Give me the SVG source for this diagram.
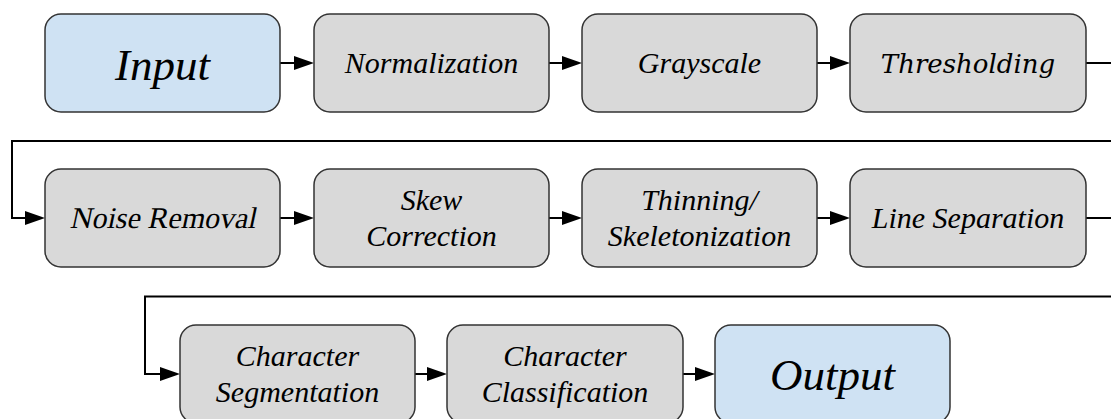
<svg xmlns="http://www.w3.org/2000/svg" width="1111" height="419" viewBox="0 0 1111 419">
<style>
.box{stroke:#333;stroke-width:1.5}
.io{fill:#cfe2f3}
.st{fill:#d9d9d9}
.c{fill:none;stroke:#000;stroke-width:2}
.ah{fill:#000;stroke:none}
</style>
<rect width="1111" height="419" fill="#fff"/>
<g id="connectors">
<path class="c" d="M280,63 H296"/>
<path class="c" d="M549,63 H564"/>
<path class="c" d="M817,63 H832"/>
<path class="c" d="M1086,63 H1116 V141 H12 V218 H27"/>
<path class="c" d="M280,218 H296"/>
<path class="c" d="M549,218 H564"/>
<path class="c" d="M817,218 H832"/>
<path class="c" d="M1086,218 H1116 V296.5 H145 V374 H162"/>
<path class="c" d="M415,374 H429"/>
<path class="c" d="M683,374 H697"/>
<polygon class="ah" points="294,56 314,63 294,70"/>
<polygon class="ah" points="562,56 582,63 562,70"/>
<polygon class="ah" points="830,56 850,63 830,70"/>
<polygon class="ah" points="25,211 45,218 25,225"/>
<polygon class="ah" points="294,211 314,218 294,225"/>
<polygon class="ah" points="562,211 582,218 562,225"/>
<polygon class="ah" points="830,211 850,218 830,225"/>
<polygon class="ah" points="160,367 180,374 160,381"/>
<polygon class="ah" points="427,367 447,374 427,381"/>
<polygon class="ah" points="695,367 715,374 695,381"/>
</g>
<g id="input"><rect class="box io" x="45" y="14" width="235" height="98" rx="16"/><text font-family="'Liberation Serif'" font-style="italic" font-size="45" text-anchor="middle" x="162.5" y="80">Input</text></g>
<g id="normalization"><rect class="box st" x="314" y="14" width="235" height="98" rx="16"/><text font-family="Tinos" font-style="italic" font-size="30" text-anchor="middle" x="431.5" y="73">Normalization</text></g>
<g id="grayscale"><rect class="box st" x="582" y="14" width="235" height="98" rx="16"/><text font-family="'Times New Roman'" font-style="italic" font-size="30" text-anchor="middle" x="699.5" y="73">Grayscale</text></g>
<g id="thresholding"><rect class="box st" x="850" y="14" width="236" height="98" rx="16"/><text font-family="'DejaVu Serif'" font-style="italic" font-size="26" text-anchor="middle" x="968" y="73">Thresholding</text></g>
<g id="noise-removal"><rect class="box st" x="45" y="169" width="235" height="98" rx="16"/><text font-family="'Liberation Serif'" font-size="30" text-anchor="middle" transform="translate(162.5 228) skewX(-12)">Noise Removal</text></g>
<g id="skew-correction"><rect class="box st" x="314" y="169" width="235" height="98" rx="16"/><text font-family="serif" font-style="italic" font-size="30" text-anchor="middle" x="431.5" y="210">Skew</text><text font-family="serif" font-style="italic" font-size="30" text-anchor="middle" x="431.5" y="246">Correction</text></g>
<g id="thinning"><rect class="box st" x="582" y="169" width="235" height="98" rx="16"/><text font-family="'Liberation Serif'" font-style="oblique" font-size="30" text-anchor="middle" x="699.5" y="210">Thinning/</text><text font-family="'Liberation Serif'" font-style="oblique" font-size="30" text-anchor="middle" x="699.5" y="246">Skeletonization</text></g>
<g id="line-separation"><rect class="box st" x="850" y="169" width="236" height="98" rx="16"/><text font-family="'Liberation Serif'" font-style="italic" font-size="30" text-anchor="middle" x="968" y="228">Line Separation</text></g>
<g id="char-segmentation"><rect class="box st" x="180" y="325" width="235" height="98" rx="16"/><text font-family="'Liberation Serif'" font-style="italic" font-size="30" text-anchor="middle" x="297.5" y="366">Character</text><text font-family="'Liberation Serif'" font-style="italic" font-size="30" text-anchor="middle" x="297.5" y="402">Segmentation</text></g>
<g id="char-classification"><rect class="box st" x="447" y="325" width="236" height="98" rx="16"/><text font-family="'Liberation Serif'" font-style="italic" font-size="30" text-anchor="middle" x="565" y="366">Character</text><text font-family="'Liberation Serif'" font-style="italic" font-size="30" text-anchor="middle" x="565" y="402">Classification</text></g>
<g id="output"><rect class="box io" x="715" y="325" width="235" height="98" rx="16"/><text font-family="'Liberation Serif'" font-style="italic" font-size="45" text-anchor="middle" x="832.5" y="390">Output</text></g>
</svg>
